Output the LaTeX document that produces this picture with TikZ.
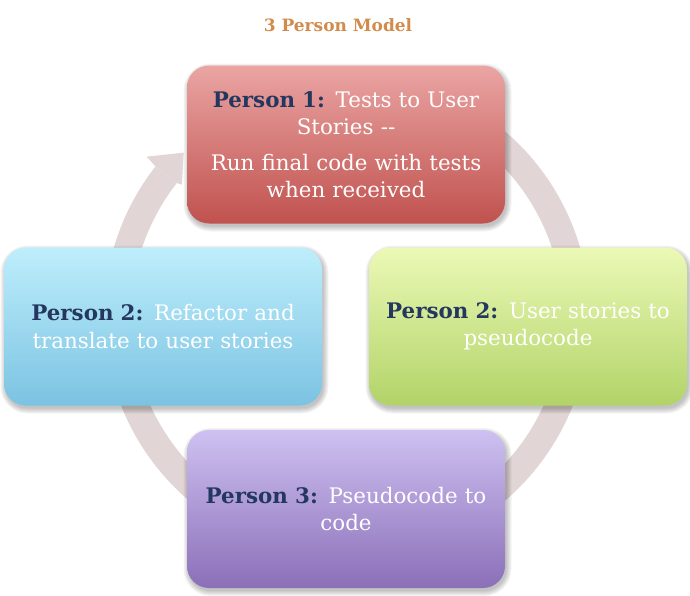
\documentclass[tikz,border=0pt]{standalone}
\usepackage{fontspec}
\setmainfont{DejaVu Serif}
\usetikzlibrary{calc}

\definecolor{ringc}{RGB}{226,213,213}
\definecolor{navy}{RGB}{35,55,95}
\definecolor{titlec}{RGB}{209,139,74}
\definecolor{redtop}{RGB}{234,165,163}
\definecolor{redbot}{RGB}{192,82,79}
\definecolor{bluetop}{RGB}{190,238,252}
\definecolor{bluebot}{RGB}{123,195,226}
\definecolor{greentop}{RGB}{235,249,182}
\definecolor{greenbot}{RGB}{178,211,104}
\definecolor{violettop}{RGB}{206,193,241}
\definecolor{violetbot}{RGB}{139,111,184}

\newcommand{\who}[1]{{\color{navy}\bfseries #1}}

% soft drop shadow: stacked translucent rounded rectangles
\newcommand{\softshadow}[1]{%
  \foreach \k in {0,1,...,5}{%
    \fill[black, opacity=0.045, rounded corners=22pt+\k pt]
      ($(#1)+(1.5-159-\k,-3-79-\k)$) rectangle ($(#1)+(1.5+159+\k,-3+79+\k)$);
  }}

\begin{document}
\begin{tikzpicture}[x=1pt,y=1pt,
  stagebox/.style={rounded corners=22pt, minimum width=318pt, minimum height=158pt,
    inner sep=0pt, text width=312pt, align=center, text=white,
    font=\fontsize{21.4}{27.5}\selectfont},
  titletext/.style={font=\bfseries\fontsize{17}{20}\selectfont, text=titlec}
]
\useasboundingbox (0,0) rectangle (690,-595);

% centre of the cycle ring and of the four stages
\coordinate (hub) at (347,-316);
\coordinate (c1) at (346,-144.5);
\coordinate (c2) at (528,-326.5);
\coordinate (c3) at (346,-509);
\coordinate (c4) at (163,-326.5);

% circular arrow running clockwise behind the four stages
\draw[ringc, line width=27pt] ([shift={(110:229.5pt)}]hub)
  arc[start angle=110, end angle=-218, radius=229.5pt];
\fill[ringc] ([shift={(142:243pt)}]hub) -- ([shift={(141.5:256pt)}]hub)
  -- ([shift={(135:231pt)}]hub) -- ([shift={(141.5:211pt)}]hub)
  -- ([shift={(142:216pt)}]hub) -- cycle;

% title
\node[titletext] (title) at (338,-25) {3 Person Model};

% stage shadows
\softshadow{c1}
\softshadow{c2}
\softshadow{c3}
\softshadow{c4}

% stages
\node[stagebox, top color=redtop, bottom color=redbot] (p1) at (c1)
  {\who{Person 1:} Tests to User\\Stories -{}-\\[8pt]Run final code with tests\\when received};
\node[stagebox, top color=greentop, bottom color=greenbot] (p2) at (c2)
  {\who{Person 2:} User stories to\\pseudocode};
\node[stagebox, top color=violettop, bottom color=violetbot] (p3) at (c3)
  {\who{Person 3:} Pseudocode to\\code};
\node[stagebox, top color=bluetop, bottom color=bluebot] (p4) at (c4)
  {\who{Person 2:} Refactor and\\translate to user stories};
\end{tikzpicture}
\end{document}
